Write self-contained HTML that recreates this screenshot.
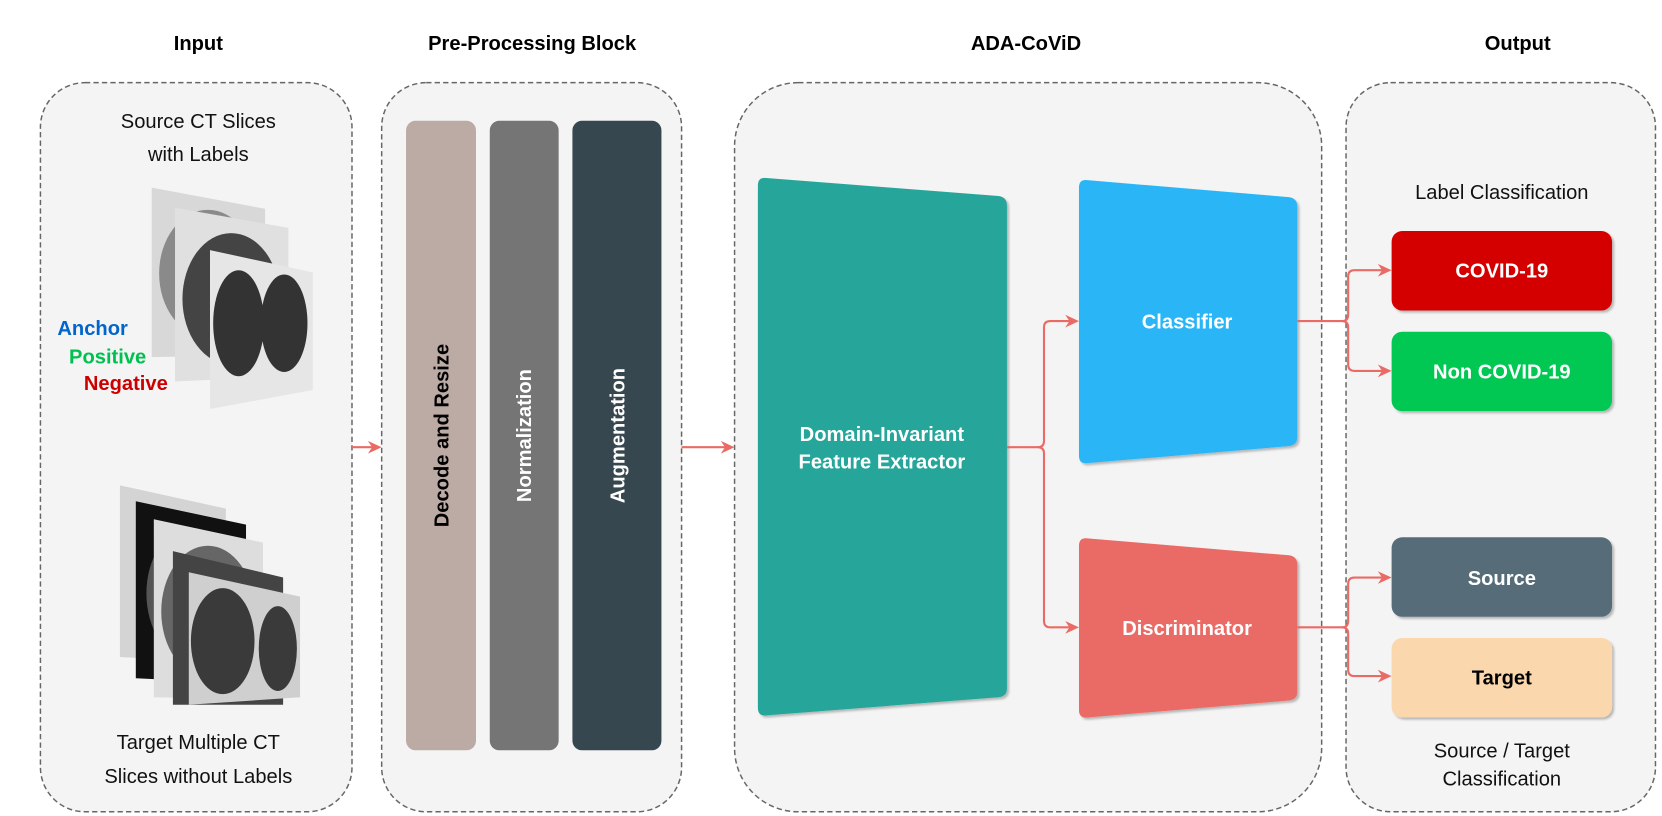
<!DOCTYPE html>
<html><head><meta charset="utf-8"><style>
html,body{margin:0;padding:0;background:#fff;}
svg{display:block;}
text{font-family:"Liberation Sans",Arial,sans-serif;}
</style></head><body>
<svg width="1662" height="816" viewBox="0 0 1568 770" xmlns="http://www.w3.org/2000/svg">
<defs>
<marker id="ar" viewBox="0 0 10 10" refX="9" refY="5" markerWidth="7" markerHeight="7" orient="auto" markerUnits="userSpaceOnUse">
</marker>
<filter id="sh" x="-5%" y="-5%" width="115%" height="115%"><feDropShadow dx="2" dy="2" stdDeviation="1" flood-color="#000" flood-opacity="0.25"/></filter>
</defs>
<!-- panels -->
<g fill="#f4f4f4" stroke="#666" stroke-width="1.4" stroke-dasharray="5,3">
<rect x="38" y="78" width="294" height="688" rx="42"/>
<rect x="360" y="78" width="283" height="688" rx="42"/>
<rect x="693" y="78" width="554" height="688" rx="60"/>
<rect x="1270" y="78" width="292" height="688" rx="42"/>
</g>
<g font-size="19" font-weight="bold" text-anchor="middle" fill="#000">
<text x="187" y="47">Input</text>
<text x="502" y="47">Pre-Processing Block</text>
<text x="968" y="47">ADA-CoViD</text>
<text x="1432" y="47">Output</text>
</g>
<g font-size="19" text-anchor="middle" fill="#111">
<text x="187" y="121">Source CT Slices</text>
<text x="187" y="152">with Labels</text>
<text x="187" y="707">Target Multiple CT</text>
<text x="187" y="739">Slices without Labels</text>
<text x="1417" y="188">Label Classification</text>
<text x="1417" y="715">Source / Target</text>
<text x="1417" y="741">Classification</text>
</g>
<!-- CT top -->
<g>
<polygon points="143,177 250,197 250,335 143,337" fill="#d8d8d8"/>
<ellipse cx="196" cy="258" rx="46" ry="60" fill="#8a8a8a"/>
<polygon points="165,196 272,215 272,355 165,360" fill="#e0e0e0"/>
<ellipse cx="218" cy="282" rx="46" ry="62" fill="#444"/>
<polygon points="198,236 295,257 295,368 198,386" fill="#e6e6e6"/>
<ellipse cx="225" cy="305" rx="24" ry="50" fill="#333"/>
<ellipse cx="268" cy="305" rx="22" ry="46" fill="#333"/>
</g>
<!-- CT bottom -->
<g>
<polygon points="113,458 213,480 213,625 113,620" fill="#d4d4d4"/>
<polygon points="128,473 232,495 232,645 128,640" fill="#111"/>
<ellipse cx="180" cy="560" rx="42" ry="62" fill="#555"/>
<polygon points="145,490 248,512 248,660 145,658" fill="#ddd"/>
<ellipse cx="196" cy="577" rx="44" ry="62" fill="#666"/>
<polygon points="163,520 267,545 267,665 163,665" fill="#444"/>
<polygon points="178,540 283,563 283,658 178,665" fill="#cfcfcf"/>
<ellipse cx="210" cy="605" rx="30" ry="50" fill="#3a3a3a"/>
<ellipse cx="262" cy="612" rx="18" ry="40" fill="#3a3a3a"/>
</g>
<g font-size="19" font-weight="bold">
<text x="54" y="316" fill="#0066cc">Anchor</text>
<text x="65" y="343" fill="#00c050">Positive</text>
<text x="79" y="368" fill="#cc0000">Negative</text>
</g>
<!-- pre-processing bars -->
<rect x="383" y="114" width="66" height="594" rx="9" fill="#bcaaa4"/>
<rect x="462" y="114" width="65" height="594" rx="9" fill="#757575"/>
<rect x="540" y="114" width="84" height="594" rx="9" fill="#37474f"/>
<g font-size="19" font-weight="bold" text-anchor="middle">
<text transform="translate(423,411) rotate(-90)" fill="#000">Decode and Resize</text>
<text transform="translate(501,411) rotate(-90)" fill="#fff">Normalization</text>
<text transform="translate(589,411) rotate(-90)" fill="#fff">Augmentation</text>
</g>
<!-- FE -->
<path d="M715,175 Q715,167 723,168 L942,185 Q950,186 950,194 L950,650 Q950,657 942,658 L723,675 Q715,676 715,668 Z" fill="#26a69a" filter="url(#sh)"/>
<path d="M1018,177 Q1018,169 1026,170 L1216,186 Q1224,187 1224,195 L1224,413 Q1224,420 1216,421 L1026,437 Q1018,438 1018,430 Z" fill="#29b6f6" filter="url(#sh)"/>
<path d="M1018,515 Q1018,507 1026,508 L1216,524 Q1224,525 1224,533 L1224,653 Q1224,660 1216,661 L1026,677 Q1018,678 1018,670 Z" fill="#ea6b66" filter="url(#sh)"/>
<g font-size="19" font-weight="bold" text-anchor="middle" fill="#fff">
<text x="832" y="416">Domain-Invariant</text>
<text x="832" y="442">Feature Extractor</text>
<text x="1120" y="310">Classifier</text>
<text x="1120" y="599">Discriminator</text>
</g>
<!-- output boxes -->
<g filter="url(#sh)">
<rect x="1313" y="218" width="208" height="75" rx="10" fill="#d40000"/>
<rect x="1313" y="313" width="208" height="75" rx="10" fill="#00c853"/>
<rect x="1313" y="507" width="208" height="75" rx="10" fill="#566d79"/>
<rect x="1313" y="602" width="208" height="75" rx="10" fill="#fad7ac"/>
</g>
<g font-size="19" font-weight="bold" text-anchor="middle">
<text x="1417" y="262" fill="#fff">COVID-19</text>
<text x="1417" y="357" fill="#fff">Non COVID-19</text>
<text x="1417" y="552" fill="#fff">Source</text>
<text x="1417" y="646" fill="#000">Target</text>
</g>
<!-- connectors -->
<g fill="none" stroke="#ea6b66" stroke-width="2">
<path d="M332,422 H356"/>
<path d="M643,422 H689"/>
<path d="M950,422 H979 Q985,422 985,416 V309 Q985,303 991,303 H1014"/>
<path d="M979,422 Q985,422 985,428 V586 Q985,592 991,592 H1014"/>
<path d="M1224,303 H1266 Q1272,303 1272,297 V261 Q1272,255 1278,255 H1309"/>
<path d="M1266,303 Q1272,303 1272,309 V344 Q1272,350 1278,350 H1309"/>
<path d="M1224,592 H1266 Q1272,592 1272,586 V551 Q1272,545 1278,545 H1309"/>
<path d="M1266,592 Q1272,592 1272,598 V632 Q1272,638 1278,638 H1309"/>
</g>
<g fill="#ea6b66">
<path d="M360,422 l-13,-6 l4,6 l-4,6 z"/>
<path d="M693,422 l-13,-6 l4,6 l-4,6 z"/>
<path d="M1018,303 l-13,-6 l4,6 l-4,6 z"/>
<path d="M1018,592 l-13,-6 l4,6 l-4,6 z"/>
<path d="M1313,255 l-13,-6 l4,6 l-4,6 z"/>
<path d="M1313,350 l-13,-6 l4,6 l-4,6 z"/>
<path d="M1313,545 l-13,-6 l4,6 l-4,6 z"/>
<path d="M1313,638 l-13,-6 l4,6 l-4,6 z"/>
</g>
</svg>
</body></html>
